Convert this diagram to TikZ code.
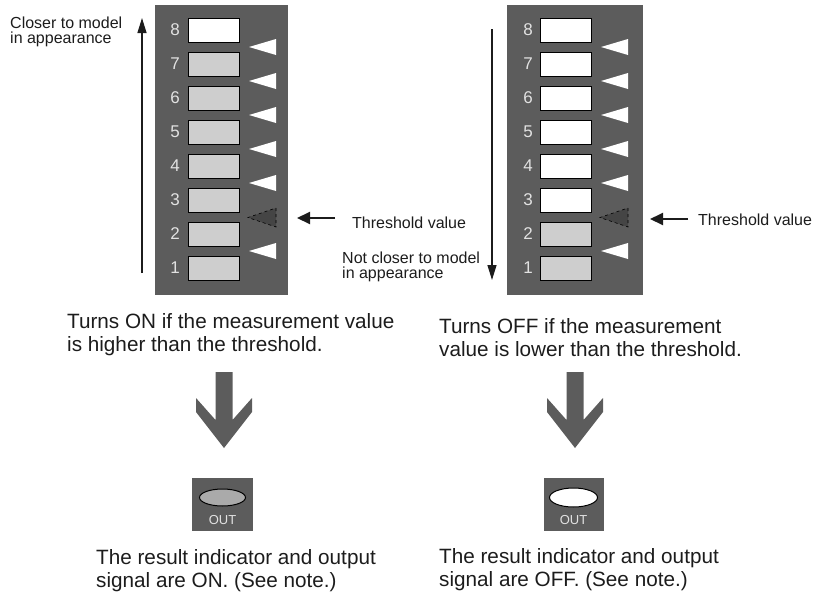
\documentclass[tikz,border=0pt]{standalone}
\usepackage{fontspec}
\setmainfont{Liberation Sans}
\usetikzlibrary{arrows.meta,positioning}
\definecolor{panelgray}{RGB}{92,92,92}
\definecolor{dotgray}{RGB}{206,206,206}
\definecolor{lensgray}{RGB}{170,170,170}
\definecolor{digitgray}{RGB}{226,226,226}
\definecolor{textblack}{RGB}{28,28,28}

\begin{document}
\begin{tikzpicture}[x=1pt, y=-1pt,
  panel/.style={rectangle, fill=panelgray, inner sep=0pt},
  lamp/.style={rectangle, draw=black, line width=0.6pt, minimum width=51pt, minimum height=24pt, inner sep=0pt},
  onlamp/.style={lamp, fill=dotgray},
  offlamp/.style={lamp, fill=white},
  digit/.style={font=\fontsize{17}{17}\selectfont, text=digitgray, inner sep=0pt},
  note/.style={font=\fontsize{16}{15}\selectfont, text=textblack, align=left, inner sep=0pt, anchor=north west},
  body/.style={font=\fontsize{20.7}{23}\selectfont, text=textblack, align=left, inner sep=0pt, anchor=north west},
  outtxt/.style={font=\fontsize{13}{13}\selectfont, text=digitgray, inner sep=0pt},
  arr/.style={-{Triangle[length=15pt, width=9pt]}, line width=1.3pt, textblack},
  thr/.style={-{Triangle[length=13pt, width=12pt]}, line width=2pt, textblack}
]
\useasboundingbox (0,0) rectangle (814,595);

% level panels
\node[panel, minimum width=133pt, minimum height=290pt, anchor=north west] (lpanel) at (155,5) {};
\node[panel, minimum width=136pt, minimum height=290pt, anchor=north west] (rpanel) at (507,5) {};

\foreach \i in {1,...,7}
  \node[onlamp] (lb\i) at (214,{30+(8-\i)*34}) {};
\node[offlamp] (lb8) at (214,30) {};
\foreach \i in {1,2}
  \node[onlamp] (rb\i) at (566,{30+(8-\i)*34}) {};
\foreach \i in {3,...,8}
  \node[offlamp] (rb\i) at (566,{30+(8-\i)*34}) {};

\foreach \i in {1,...,8} {
  \node[digit] (ld\i) at (175,{30+(8-\i)*34}) {\i};
  \node[digit] (rd\i) at (528,{30+(8-\i)*34}) {\i};
}

\foreach \k in {1,3,4,5,6,7}
  \foreach \x in {155,507}
    \fill[white] ({\x+121},{30+(8-\k)*34-17-8}) -- ({\x+121},{30+(8-\k)*34-17+8}) -- ({\x+94},{30+(8-\k)*34-17}) -- cycle;
\foreach \x in {155,507}
  \draw[black, dashed, line width=0.6pt, fill=panelgray!75!black] ({\x+121},208) -- ({\x+121},227) -- ({\x+93},217.5) -- cycle;

% direction arrows
\node[note] (closer) at (10,16.3) {Closer to model\\in appearance};
\coordinate (lupfoot) at (142,273);
\coordinate (luptip) at (142,18);
\draw[arr] (lupfoot) -- (luptip);

\node[note] (notcloser) at (342,252) {Not closer to model\\in appearance};
\coordinate (rdowntop) at (492,29);
\coordinate (rdowntip) at (492,280);
\draw[arr] (rdowntop) -- (rdowntip);

% threshold
\node[note] (lthr) at (352,216.5) {Threshold value};
\coordinate (lthrfoot) at (335,218);
\coordinate (lthrtip) at (297,218);
\draw[thr] (lthrfoot) -- (lthrtip);
\node[note] (rthr) at (698,213.5) {Threshold value};
\coordinate (rthrfoot) at (688,219);
\coordinate (rthrtip) at (650,219);
\draw[thr] (rthrfoot) -- (rthrtip);

% rules
\node[body] (lrule) at (67,313.5) {Turns ON if the measurement value\\is higher than the threshold.};
\node[body] (rrule) at (439,318.5) {Turns OFF if the measurement\\value is lower than the threshold.};

\foreach \cx in {224,575}
  \fill[panelgray] ({\cx-8.5},372) -- ({\cx+8.5},372) -- ({\cx+8.5},420) -- ({\cx+28},398) -- ({\cx+28},412)
    -- (\cx,448) -- ({\cx-28},412) -- ({\cx-28},398) -- ({\cx-8.5},420) -- cycle;

% indicators
\node[panel, minimum width=61pt, minimum height=53pt] (lout) at (222.5,504) {};
\draw[black, line width=1pt, fill=lensgray] ([yshift=6.5pt]lout.center) ellipse [x radius=23pt, y radius=8.5pt];
\node[outtxt] (louttxt) at ([yshift=-16pt]lout.center) {OUT};
\node[panel, minimum width=60pt, minimum height=53pt] (rout) at (573.5,504) {};
\draw[black, line width=1pt, fill=white] ([yshift=6.5pt]rout.center) ellipse [x radius=24pt, y radius=9.5pt];
\node[outtxt] (routtxt) at ([yshift=-16pt]rout.center) {OUT};

\node[body] (lres) at (96,549) {The result indicator and output\\signal are ON. (See note.)};
\node[body] (rres) at (439,548) {The result indicator and output\\signal are OFF. (See note.)};
\end{tikzpicture}
\end{document}
